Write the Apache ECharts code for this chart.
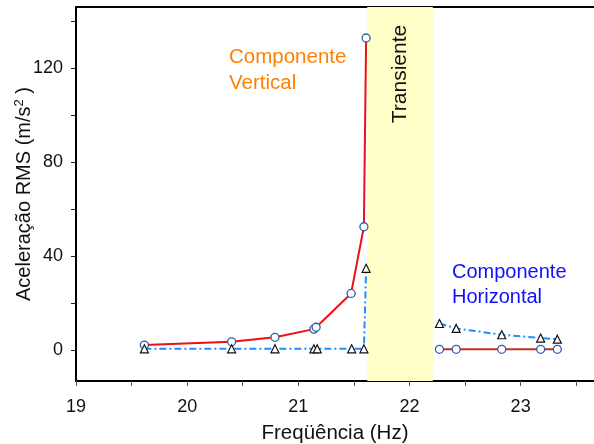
<!DOCTYPE html>
<html>
<head>
<meta charset="utf-8">
<script src="https://cdn.jsdelivr.net/npm/echarts@6/dist/echarts.min.js"></script>
<style>
  html, body { margin: 0; padding: 0; background: #fff; }
  #main { width: 594px; height: 444px; }
</style>
</head>
<body>
<div id="main"></div>
<script>
// vertical component (circles), before and after the transient band
const vertFreqPre = [19.615, 20.40, 20.79, 21.14, 21.16, 21.475, 21.59, 21.61];
const vertAccPre = [2.1, 3.5, 5.4, 8.9, 9.7, 24.1, 52.5, 132.9];
const vertFreqPost = [22.27, 22.42, 22.83, 23.18, 23.33];
const vertAccPost = [0.3, 0.3, 0.3, 0.3, 0.3];

// horizontal component (triangles)
const horFreqPre = [19.615, 20.40, 20.79, 21.14, 21.17, 21.48, 21.59, 21.61];
const horAccPre = [0.5, 0.5, 0.5, 0.5, 0.5, 0.5, 0.5, 34.8];
const horFreqPost = [22.27, 22.42, 22.83, 23.18, 23.33];
const horAccPost = [11.3, 9.2, 6.5, 5.1, 4.6];

// transient band
const transientRange = [21.62, 22.21];

const xLabels = [19, 20, 21, 22, 23];
const xTicks = [19, 19.5, 20, 20.5, 21, 21.5, 22, 22.5, 23, 23.5];
const yLabels = [0, 40, 80, 120];
const yTicks = [0, 20, 40, 60, 80, 100, 120, 140];

const font = 'Liberation Sans, Arial, sans-serif';

function pairs(xs, ys) {
    return xs.map((x, i) => [x, ys[i]]);
}

let chartDom = document.getElementById('main');
let myChart = echarts.init(chartDom);

const circle = {
    symbol: 'circle',
    symbolSize: 8,
    itemStyle: { color: '#fff', borderColor: '#2b5fa8', borderWidth: 1.3 }
};
const triangle = {
    symbol: 'triangle',
    symbolSize: 8,
    itemStyle: { color: '#fff', borderColor: '#111', borderWidth: 1.2 }
};
const dashDot = { color: '#1e8fff', width: 2, type: [7, 3, 2, 3] };

let option = {
    animation: false,
    grid: { left: 76, right: 0, top: 7, bottom: 63, outerBoundsMode: 'none', containLabel: false },
    textStyle: { fontFamily: font },
    xAxis: [{
        type: 'value',
        min: 19,
        max: 23.66,
        name: 'Freqüência (Hz)',
        nameLocation: 'middle',
        nameGap: 42,
        nameMoveOverlap: false,
        nameTextStyle: { fontSize: 20.5, color: '#111', fontFamily: font },
        splitLine: { show: false },
        axisLine: { onZero: false, lineStyle: { color: '#000', width: 2 } },
        axisTick: { customValues: xTicks, length: 5, lineStyle: { color: '#555', width: 1 } },
        axisLabel: { customValues: xLabels, margin: 17, fontSize: 18, color: '#111', fontFamily: font }
    }, {
        type: 'value',
        position: 'top',
        min: 19,
        max: 23.66,
        splitLine: { show: false },
        axisLine: { onZero: false, lineStyle: { color: '#000', width: 2 } },
        axisTick: { show: false },
        axisLabel: { show: false }
    }],
    yAxis: {
        type: 'value',
        min: -13.2,
        max: 146.1,
        name: 'Aceleração RMS (m/s{sup|2} )',
        nameLocation: 'middle',
        nameGap: 40,
        nameMoveOverlap: false,
        nameTextStyle: {
            fontSize: 20, color: '#111', fontFamily: font,
            rich: { sup: { fontSize: 13, verticalAlign: 'top', padding: [0, 0, 10, 0], color: '#111', fontFamily: font } }
        },
        splitLine: { show: false },
        axisLine: { onZero: false, lineStyle: { color: '#000', width: 2 } },
        axisTick: { customValues: yTicks, length: 5, lineStyle: { color: '#222', width: 1 } },
        axisLabel: { customValues: yLabels, margin: 13, fontSize: 18, color: '#111', fontFamily: font }
    },
    series: [{
        type: 'line',
        data: [],
        silent: true,
        markArea: {
            silent: true,
            itemStyle: { color: '#ffffc8' },
            data: [[{ xAxis: transientRange[0] }, { xAxis: transientRange[1] }]]
        }
    }, Object.assign({
        type: 'line',
        data: pairs(vertFreqPre, vertAccPre),
        lineStyle: { color: '#ee1111', width: 2 },
        z: 3
    }, circle), Object.assign({
        type: 'line',
        data: pairs(vertFreqPost, vertAccPost),
        lineStyle: { color: '#c0302a', width: 2 },
        z: 3
    }, circle), Object.assign({
        type: 'line',
        data: pairs(horFreqPre, horAccPre),
        lineStyle: dashDot,
        z: 4
    }, triangle), Object.assign({
        type: 'line',
        data: pairs(horFreqPost, horAccPost),
        lineStyle: dashDot,
        z: 4
    }, triangle)],
    graphic: [{
        type: 'text',
        x: 400,
        y: 74,
        rotation: Math.PI / 2,
        style: {
            text: 'Transiente',
            font: '21px ' + font,
            fill: '#111',
            align: 'center',
            verticalAlign: 'middle'
        },
        z: 10
    }, {
        type: 'text',
        x: 229,
        y: 44,
        style: {
            text: 'Componente\nVertical',
            font: '20.5px ' + font,
            lineHeight: 26,
            fill: '#ff8000',
            align: 'left',
            verticalAlign: 'top'
        },
        z: 10
    }, {
        type: 'text',
        x: 452,
        y: 260,
        style: {
            text: 'Componente\nHorizontal',
            font: '20px ' + font,
            lineHeight: 25,
            fill: '#1010ff',
            align: 'left',
            verticalAlign: 'top'
        },
        z: 10
    }]
};

option && myChart.setOption(option);
</script>
</body>
</html>
